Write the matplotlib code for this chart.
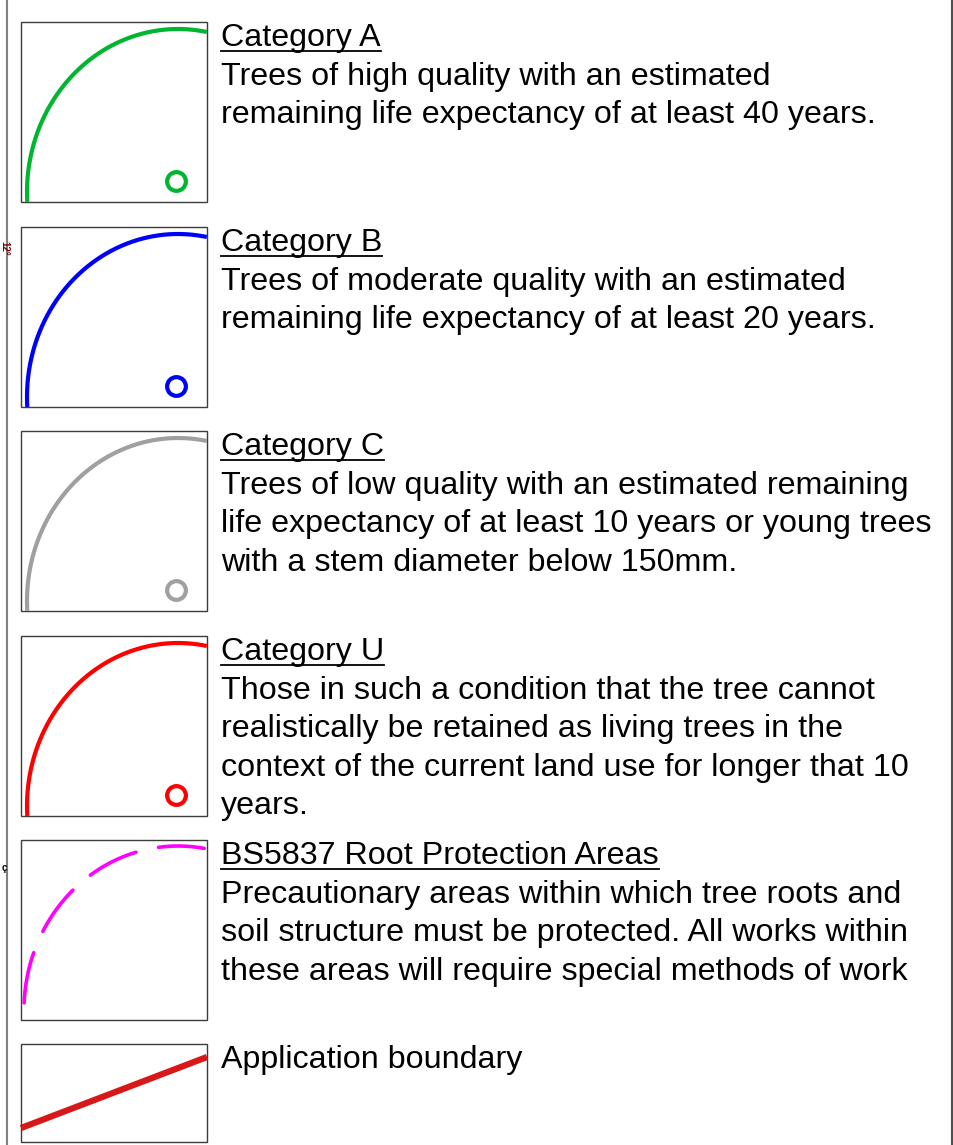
import numpy as np
import matplotlib
matplotlib.use("Agg")
import matplotlib.pyplot as plt

# Legend entries
TITLES = ["Category A", "Category B", "Category C", "Category U",
          "BS5837 Root Protection Areas"]
DESCRIPTIONS = [
    ["Trees of high quality with an estimated",
     "remaining life expectancy of at least 40 years."],
    ["Trees of moderate quality with an estimated",
     "remaining life expectancy of at least 20 years."],
    ["Trees of low quality with an estimated remaining",
     "life expectancy of at least 10 years or young trees",
     "with a stem diameter below 150mm."],
    ["Those in such a condition that the tree cannot",
     "realistically be retained as living trees in the",
     "context of the current land use for longer that 10",
     "years."],
    ["Precautionary areas within which tree roots and",
     "soil structure must be protected. All works within",
     "these areas will require special methods of work"],
]
COLORS = ["#00b52f", "#0000ff", "#a0a0a0", "#ff0000", "#ff00ff"]
HAS_STEM = [True, True, True, True, False]
DASHED = [False, False, False, False, True]

BOUNDARY_LABEL = "Application boundary"
BOUNDARY_COLOR = "#d81818"

W, H = 954, 1145
FONT = "Liberation Sans"
FS = 23.2

fig = plt.figure(figsize=(W / 100, H / 100), dpi=100, facecolor="white")
ax = fig.add_axes([0, 0, 1, 1])
ax.set_xlim(0, W)
ax.set_ylim(H, 0)
ax.axis("off")

# frame lines and clipped map labels from the drawing sheet
ax.plot([7, 7], [0, H], color="#808080", lw=1.5)
ax.plot([952, 952], [0, H], color="#505050", lw=1.5)
ax.text(4, 248, "12°", color="#7a0000", fontsize=7, rotation=-90,
        ha="center", va="center", family=FONT, fontweight="bold")
ax.text(4, 868, "ç", color="black", fontsize=7, ha="center",
        va="center", family=FONT, fontweight="bold")

BOX_L, BOX_R = 21, 207
BOX_TOPS = [22, 227, 431, 636, 840]
BOX_H = 180
TEXT_X = 221
LINE_GAP = 38.6


def draw_box(top, height):
    ax.add_patch(plt.Rectangle((BOX_L, top), BOX_R - BOX_L, height,
                               fill=False, edgecolor="#3c3c3c", lw=1.0))


fig.canvas.draw()
renderer = fig.canvas.get_renderer()

for i, (title, desc, col) in enumerate(zip(TITLES, DESCRIPTIONS, COLORS)):
    top = BOX_TOPS[i]
    draw_box(top, BOX_H)

    # crown spread arc
    cx, cy = BOX_L + 157, top + 170
    if DASHED[i]:
        rx, ry = 154, 164
        th = np.radians(np.linspace(177.5, 80.2, 200))
        ax.plot(cx + rx * np.cos(th), cy - ry * np.sin(th), color=col,
                lw=2.6, dash_capstyle="round",
                ls=(0, (14.2, 6.4)))
    else:
        rx, ry = 151, 163
        th = np.radians(np.linspace(183.5, 79, 200))
        ax.plot(cx + rx * np.cos(th), cy - ry * np.sin(th), color=col,
                lw=3.0, solid_capstyle="butt")
    if HAS_STEM[i]:
        ax.plot(BOX_L + 155, top + 159, "o", ms=13.5, mfc="none",
                mec=col, mew=3.0)

    base = top + 24
    t = ax.text(TEXT_X, base, title, fontsize=FS, family=FONT,
                va="baseline", ha="left", color="black")
    bb = t.get_window_extent(renderer)
    ax.plot([TEXT_X, TEXT_X + bb.width], [base + 5, base + 5],
            color="black", lw=1.3)
    for j, line in enumerate(desc):
        ax.text(TEXT_X, base + LINE_GAP * (j + 1), line, fontsize=FS,
                family=FONT, va="baseline", ha="left", color="black")

# application boundary
btop = 1044
draw_box(btop, 98)
ax.plot([BOX_L, BOX_R], [btop + 84, btop + 13], color=BOUNDARY_COLOR,
        lw=4.5, solid_capstyle="butt")
ax.text(TEXT_X, btop + 24, BOUNDARY_LABEL, fontsize=FS, family=FONT,
        va="baseline", ha="left", color="black")

fig.savefig("out.png", dpi=100, facecolor="white")
